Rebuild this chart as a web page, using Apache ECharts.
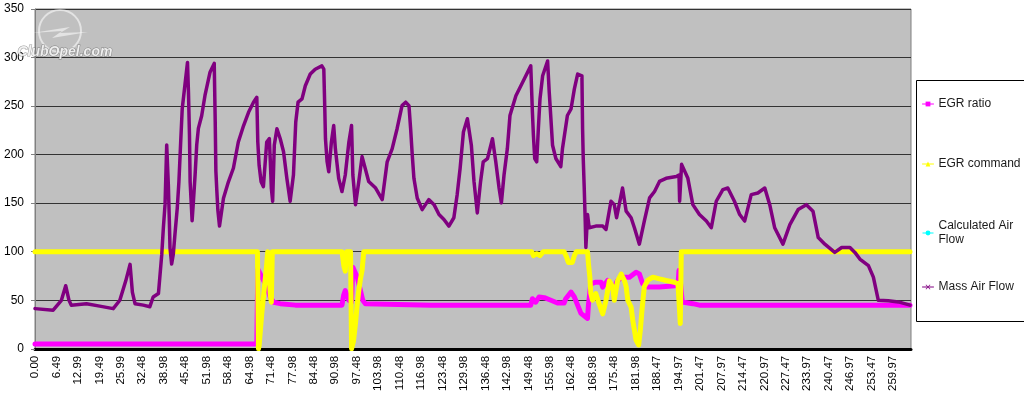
<!DOCTYPE html>
<html>
<head>
<meta charset="utf-8">
<script src="https://cdn.jsdelivr.net/npm/echarts@6/dist/echarts.min.js"></script>
<style>
html,body{margin:0;padding:0;background:#fff;}
#chart{width:1024px;height:394px;}
</style>
</head>
<body>
<div id="chart"></div>
<script>
// X-axis tick labels (time, s)
const tickLabels = ['0.00','6.49','12.99','19.49','25.99','32.48','38.98','45.48','51.98','58.48','64.98','71.48','77.98','84.48','90.98','97.48','103.98','110.48','116.98','123.48','129.98','136.48','142.98','149.48','155.98','162.48','168.98','175.48','181.98','188.47','194.97','201.47','207.97','214.47','220.97','227.47','233.97','240.47','246.97','253.47','259.97'];
const tickStep = 6.49925;

// EGR ratio [time, value]
const egrRatio = [[0,5],[67.2,5],[67.5,82],[68.7,74],[70.2,64],[71.3,53],[72.3,48],[74.3,46.5],[78.9,45],[93.0,45],[93.5,55],[94.0,60],[95.1,50],[95.9,48],[96.3,84],[97.6,74],[98.6,60],[99.3,50],[100.1,46.5],[120,45],[150.2,45],[150.7,51.6],[151.7,48],[152.7,53.4],[154.3,52.7],[156.3,50],[158.3,47.2],[160.3,47.2],[160.8,51.6],[162.4,58.5],[163.4,53.4],[164.4,45],[165.4,36.5],[167.4,31.3],[167.7,46.5],[168.4,67],[169.9,68.6],[171.5,68.6],[172.0,63.6],[173.5,70.4],[174.5,63.6],[175.5,63.6],[176.5,70.4],[178.0,73.8],[180.1,73.8],[182.1,78.9],[183.1,77.2],[184.1,67],[185.2,63.6],[189.2,63.6],[194.8,65.3],[195.1,80.6],[195.5,70.4],[196.1,48.3],[199.3,46.5],[201.3,45],[265.1,45]];

// EGR command [time, value]
const egrCommand = [[0,100],[67.4,100],[67.7,0],[67.9,3],[68.7,36],[69.7,70],[70.2,87],[70.5,100],[71.0,100],[71.3,55],[71.6,48],[71.9,100],[93.0,100],[93.6,85],[94.0,80],[94.4,100],[95.6,100],[95.9,0],[96.5,8],[97.1,26],[97.6,45],[98.1,60],[98.6,72],[99.1,81],[99.6,100],[150.5,100],[151,96],[152,98],[153,96],[154,100],[160.3,100],[161.0,95],[161.6,89],[162.8,89],[163.4,96],[164,100],[167.4,100],[167.7,87],[168.1,74],[168.4,57],[168.9,50],[169.9,57],[170.9,46.5],[172.0,36],[173.0,50],[174.0,70],[175.0,64],[175.5,50],[176.5,70],[177.6,77],[178.6,70],[179.1,64],[179.6,50],[180.6,43],[181.1,29.5],[181.6,19.3],[182.1,9],[182.9,4],[183.4,19.3],[183.9,40],[184.6,64],[185.6,70.4],[187.2,73.8],[189.2,72],[191.2,70.4],[193.7,68.6],[194.8,67],[195.1,50],[195.5,26],[195.8,100],[265.1,100]];

// Mass Air Flow [time, value]
const massAirFlow = [[0,41.4],[5.5,39.8],[8.0,50],[9.3,65],[10.3,50],[11.0,45],[15.6,46.5],[19.6,44],[23.7,41.4],[25.7,50],[27.5,70],[28.8,87],[29.5,58.5],[30.3,46.5],[32.8,45],[34.8,43.4],[35.8,53.4],[37.4,57],[37.9,77],[38.4,97],[38.9,125],[39.4,148.5],[39.9,210],[40.4,169],[40.7,132],[40.9,104],[41.4,87.4],[41.9,97.4],[42.4,118],[43.1,145],[43.6,172],[44.1,210],[44.6,247],[45.5,274],[46.2,295],[46.5,264],[46.8,220],[47.0,172],[47.3,152],[47.6,132],[48.0,152],[48.5,179],[49.0,210],[49.5,227],[50.5,240],[51.5,261],[53.0,284.5],[54.3,294],[54.6,234],[54.8,183],[55.1,162],[55.4,143],[55.9,126.4],[57.1,155],[58.6,172],[60.1,186],[61.6,213],[63.2,230],[64.7,243.6],[66.2,254],[67.2,259],[67.5,213],[67.9,189],[68.5,172],[69.2,167],[70.2,213],[71.0,216.4],[71.3,192.6],[71.6,165.6],[72.0,152],[72.5,210],[73.3,226.7],[74.3,216.4],[75.3,203],[76.3,175.6],[77.3,152],[78.3,179],[79.0,233.6],[79.7,254],[80.9,257.4],[81.9,271],[83.4,283],[84.9,288],[86.9,291.4],[87.5,288],[87.8,247],[88.0,216.4],[88.5,192.6],[89.0,182.4],[89.8,213],[90.5,230],[91.0,206],[92.0,175.6],[93.0,162],[94.0,179],[95.1,213],[95.9,230],[96.3,179],[97.1,148.5],[98.1,172.4],[99.1,198],[101.1,172.4],[103.2,165.6],[105.2,153.7],[106.7,192.6],[108.2,206],[109.7,226.7],[111.2,250.5],[112.3,254],[113.3,250.5],[113.8,226.7],[114.3,199.6],[114.8,175.6],[115.8,155.4],[117.3,143.4],[119.3,153.7],[120.9,148.5],[122.4,138.3],[123.9,133.2],[125.4,126.4],[126.9,135],[127.9,158.8],[128.8,186],[129.8,223.3],[131.0,237],[132.2,209.7],[133.0,172.4],[134.0,140],[135.0,172.4],[135.8,192.6],[137.1,196],[138.6,216.4],[139.6,192.6],[140.6,165.6],[141.3,150.3],[142.1,179],[143.1,206],[143.9,240.3],[145.7,260.7],[147.7,274.3],[150.2,291.4],[150.7,243.6],[151.0,220],[151.4,196],[152.0,192.6],[152.5,226.7],[153.0,257.4],[153.8,281.2],[155.3,296.5],[155.8,264.2],[156.3,237],[156.8,209.7],[157.8,196],[159.3,187.6],[159.8,206],[161.3,240.3],[162.4,247],[163.4,267.5],[164.4,283],[165.7,281.2],[165.9,226.7],[166.1,196],[166.4,165.6],[166.7,131.6],[166.9,104.4],[167.4,138.3],[167.9,124.7],[169.9,126.4],[172.0,126.4],[173.0,123],[174.5,152],[175.5,148.5],[176.2,135],[178.0,165.6],[179.1,141.8],[180.6,135],[181.6,124.7],[183.1,107.8],[184.6,131.6],[186.2,155.4],[187.7,162],[189.2,172.4],[191.2,175.6],[194.3,177.5],[195.1,179],[195.3,152],[195.9,190],[196.5,189],[197.8,175.6],[199.3,148.5],[201.3,138.3],[203.4,131.6],[204.9,124.7],[206.4,152],[208.4,164],[209.9,165.6],[211.9,152],[213.5,138.3],[215.0,131.6],[217.0,158.8],[219.0,160.5],[221.1,165.6],[222.6,148.5],[224.1,124.7],[226.6,107.8],[228.7,128],[231.2,143.4],[233.7,148.5],[235.7,141.8],[237.3,114.6],[239.3,107.8],[242.3,99.3],[244.4,104.4],[246.9,104.4],[248.4,99.3],[249.9,92.5],[252.5,85.7],[254.0,73.8],[255.5,50],[258.5,49.4],[261.6,48.3],[265.1,45]];

// Calculated Air Flow: drawn beneath Mass Air Flow and hidden by it in the picture
const calculatedAirFlow = massAirFlow;

const FONT = '"Liberation Sans", Arial, sans-serif';
const xMark = 'path://M0,1L1,0L5,4L9,0L10,1L6,5L10,9L9,10L5,6L1,10L0,9L4,5Z';

const chart = echarts.init(document.getElementById('chart'), null, {renderer: 'canvas'});

function legendAt(name, top) {
  return {
    data: [name], left: 917, top: top, orient: 'vertical',
    itemWidth: 11, itemHeight: 6, itemGap: 0,
    lineStyle: {width: 1},
    textStyle: {fontFamily: FONT, fontSize: 12, color: '#1a1a1a', lineHeight: 14},
    formatter: n => n === 'Calculated Air Flow' ? 'Calculated Air\nFlow' : n,
    selectedMode: false
  };
}

chart.setOption({
  animation: false,
  backgroundColor: '#fff',
  grid: {left: 35, right: 113, top: 9, bottom: 42, show: true, backgroundColor: '#C0C0C0', borderColor: '#808080', borderWidth: 1},
  legend: [
    legendAt('EGR ratio', 92),
    legendAt('EGR command', 152),
    legendAt('Calculated Air Flow', 214),
    legendAt('Mass Air Flow', 275)
  ],
  xAxis: {
    type: 'value', min: 0, max: 265.4, interval: tickStep,
    axisLine: {show: true, lineStyle: {color: '#000', width: 3}},
    axisTick: {show: false},
    splitLine: {show: false},
    axisLabel: {
      rotate: 90, margin: 7, fontFamily: FONT, fontSize: 11.5, color: '#000',
      formatter: v => { const i = Math.round(v / tickStep); return Math.abs(v / tickStep - i) < 0.01 && tickLabels[i] ? tickLabels[i] : ''; },
      showMaxLabel: false
    }
  },
  yAxis: {
    type: 'value', min: 0, max: 350, interval: 50,
    axisLine: {show: true, lineStyle: {color: '#808080', width: 1}},
    axisTick: {show: true, length: 4, lineStyle: {color: '#808080'}},
    splitLine: {show: true, lineStyle: {color: '#333', width: 1}},
    axisLabel: {fontFamily: FONT, fontSize: 12, color: '#000', margin: 11}
  },
  series: [
    {name: 'EGR ratio', type: 'line', data: egrRatio, color: '#FF00FF', symbol: 'rect', symbolSize: 5, showSymbol: false,
     lineStyle: {width: 5, color: '#FF00FF', cap: 'round', join: 'round'}, z: 2},
    {name: 'EGR command', type: 'line', data: egrCommand, color: '#FFFF00', symbol: 'triangle', symbolSize: 5, showSymbol: false,
     lineStyle: {width: 5, color: '#FFFF00', cap: 'round', join: 'round'}, z: 3},
    {name: 'Calculated Air Flow', type: 'line', data: calculatedAirFlow, color: '#00FFFF', symbol: 'circle', symbolSize: 3, showSymbol: false,
     lineStyle: {width: 1, color: '#00FFFF'}, z: 4},
    {name: 'Mass Air Flow', type: 'line', data: massAirFlow, color: '#800080', symbol: xMark, symbolSize: 5, showSymbol: false,
     lineStyle: {width: 3.5, color: '#800080', cap: 'round', join: 'round'}, z: 5}
  ],
  graphic: [
    {type: 'rect', shape: {x: 916.5, y: 80.5, width: 200, height: 241}, style: {fill: '#fff', stroke: '#000', lineWidth: 1}, z: -1, silent: true},
    {type: 'circle', shape: {cx: 60, cy: 31, r: 21}, style: {fill: 'none', stroke: 'rgba(255,255,255,0.55)', lineWidth: 2}, z: 100, silent: true},
    {type: 'polygon', shape: {points: [[32,33],[70,27],[60,33],[88,32],[52,38],[62,31]]}, style: {fill: 'rgba(255,255,255,0.55)'}, z: 100, silent: true},
    {type: 'text', left: 17, top: 45, style: {text: 'ClubOpel.com', font: 'italic bold 14px ' + FONT, fill: 'rgba(245,245,245,0.9)', stroke: 'rgba(90,90,90,0.6)', lineWidth: 1}, z: 100, silent: true}
  ]
});
</script>
</body>
</html>
